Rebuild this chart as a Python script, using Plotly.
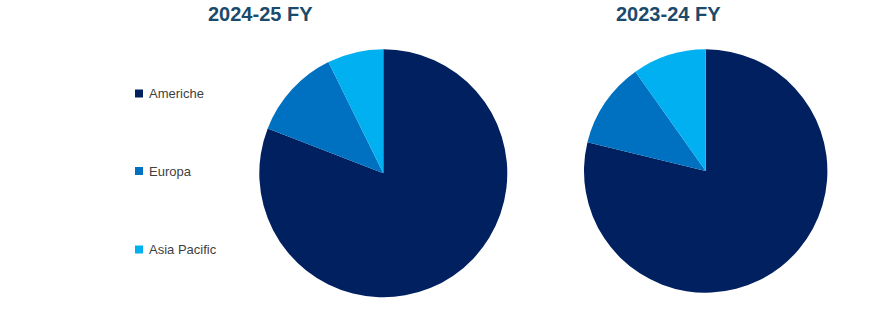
import plotly.graph_objects as go

labels = ["Americhe", "Europa", "Asia Pacific"]
colors = ["#002060", "#0070C0", "#00B0F0"]
fy_2024_25 = [80.9, 11.8, 7.3]
fy_2023_24 = [78.8, 11.4, 9.8]
titles = ["2024-25 FY", "2023-24 FY"]

W, H = 870, 313

fig = go.Figure()
fig.add_trace(go.Pie(
    labels=labels, values=fy_2024_25, sort=False, direction="clockwise", rotation=0,
    marker=dict(colors=colors, line=dict(width=0)), textinfo="none", hoverinfo="label+percent",
    domain=dict(x=[259.3 / W, 507.3 / W], y=[(H - 297.3) / H, (H - 49.3) / H]),
    showlegend=False,
))
fig.add_trace(go.Pie(
    labels=labels, values=fy_2023_24, sort=False, direction="clockwise", rotation=0,
    marker=dict(colors=colors, line=dict(width=0)), textinfo="none", hoverinfo="label+percent",
    domain=dict(x=[584.0 / W, 827.4 / W], y=[(H - 292.7) / H, (H - 49.3) / H]),
    showlegend=False,
))

annotations = []
title_x = [260, 668]
for t, x in zip(titles, title_x):
    annotations.append(dict(
        text="<b>" + t + "</b>", x=x / W, y=(H - 14) / H, xref="paper", yref="paper",
        xanchor="center", yanchor="middle", showarrow=False,
        font=dict(family="Liberation Sans, Arial, sans-serif", size=20, color="#1B4A6C"),
    ))

shapes = []
legend_y = [93.5, 171, 249.5]
for lab, col, ly in zip(labels, colors, legend_y):
    shapes.append(dict(
        type="rect", xref="paper", yref="paper",
        x0=135 / W, x1=143 / W, y0=(H - ly - 4) / H, y1=(H - ly + 4) / H,
        fillcolor=col, line=dict(width=0),
    ))
    annotations.append(dict(
        text=lab, x=146.5 / W, y=(H - ly) / H, xref="paper", yref="paper",
        xanchor="left", yanchor="middle", showarrow=False,
        font=dict(family="Liberation Sans, Arial, sans-serif", size=13, color="#3F3F3F"),
    ))

fig.update_layout(
    width=W, height=H, margin=dict(l=0, r=0, t=0, b=0),
    paper_bgcolor="white", plot_bgcolor="white",
    annotations=annotations, shapes=shapes, showlegend=False,
)

fig.write_html("out.html")
